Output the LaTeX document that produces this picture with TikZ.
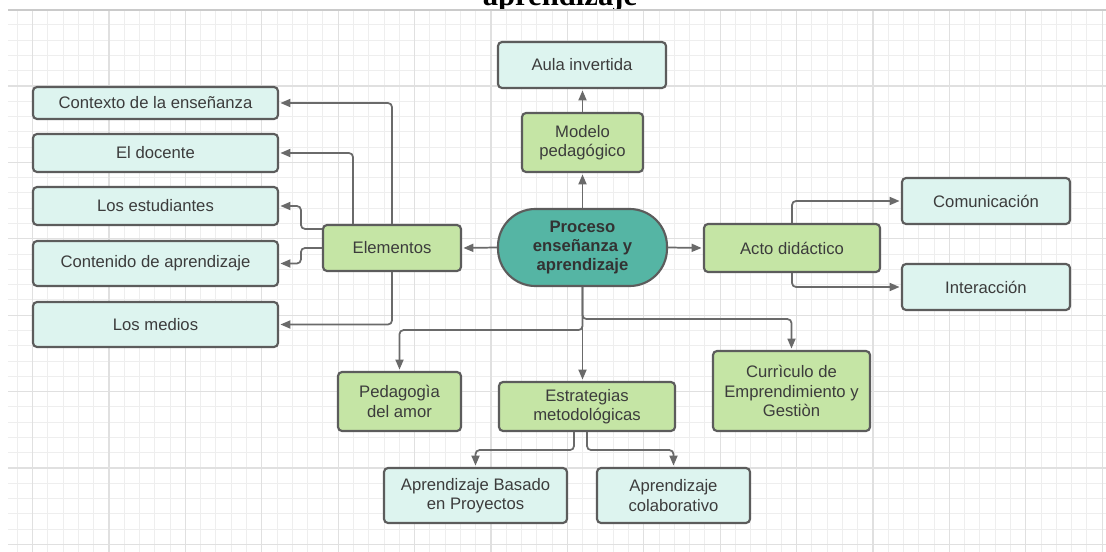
\documentclass[tikz,border=0pt]{standalone}
\usepackage{fontspec}
\setmainfont{Liberation Sans}
\newfontfamily\titlefont{Liberation Serif}
\usetikzlibrary{arrows.meta,calc}
\definecolor{lteal}{HTML}{DDF4EF}
\definecolor{lgreen}{HTML}{C5E5A5}
\definecolor{cteal}{HTML}{55B5A4}
\definecolor{bordc}{HTML}{5C5C5C}
\definecolor{linec}{HTML}{6A6A6A}
\definecolor{txtc}{HTML}{3C3C3C}
\definecolor{gridmin}{HTML}{EEEEEE}
\definecolor{gridmaj}{HTML}{E0E0E0}
\tikzset{
  basebox/.style={draw=bordc, line width=1.6pt, rounded corners=3pt, align=center,
    text=txtc, inner sep=0pt, font=\fontsize{12.5}{14.5}\selectfont},
  tbox/.style={basebox, fill=lteal},
  gbox/.style={basebox, fill=lgreen},
  cbox/.style={basebox, fill=cteal, rounded corners=28pt, text=black!80, font=\bfseries\fontsize{12.5}{14.5}\selectfont},
  conn/.style={draw=linec, line width=1.3pt, rounded corners=3pt,
    -{Triangle[length=7.5pt,width=6pt]}, shorten >=1pt},
  gridminor/.style={draw=gridmin, line width=0.75pt},
  gridmajor/.style={draw=gridmaj, line width=1pt},
}
\begin{document}
\begin{tikzpicture}[x=0.75pt,y=-0.75pt]
\useasboundingbox (0,0) rectangle (1106,552);
\fill[white] (0,0) rectangle (1106,552);
% grid
\begin{scope}
\clip (8,9.6) rectangle (1106,552);
\foreach \i in {-2,...,71}{
  \pgfmathsetmacro\xx{32.6+15.28*\i}
  \draw[gridminor] (\xx,0) -- (\xx,560);
}
\foreach \j in {0,...,36}{
  \pgfmathsetmacro\yy{9.6+15.28*\j}
  \draw[gridminor] (0,\yy) -- (1110,\yy);
}
\foreach \i in {-1,...,14}{
  \pgfmathsetmacro\xx{32.6+76.4*\i}
  \draw[gridmajor] (\xx,0) -- (\xx,560);
}
\foreach \j in {0,...,7}{
  \pgfmathsetmacro\yy{9.6+76.4*\j}
  \draw[gridmajor] (0,\yy) -- (1110,\yy);
}
\end{scope}
\draw[draw=gridmaj!90!black, line width=2.2pt] (8,10) -- (1106,10);
% title (cut off)
\begin{scope}
\clip (0,0) rectangle (1106,8.5);
\node[anchor=base, inner sep=0pt, font=\titlefont\bfseries\fontsize{23}{26}\selectfont] (title) at (560,6) {aprendizaje};
\end{scope}
% nodes
\node[cbox, minimum width=126.75pt, minimum height=57.75pt] (P) at (582.5,247.5) {Proceso\\enseñanza y\\aprendizaje};
\node[gbox, minimum width=103.5pt, minimum height=34.5pt] (E) at (392,248) {Elementos};
\node[gbox, minimum width=90.75pt, minimum height=44.25pt] (M) at (582.5,142.5) {Modelo\\pedagógico};
\node[tbox, minimum width=126pt, minimum height=34.5pt] (aula) at (582,65) {Aula invertida};
\node[gbox, minimum width=132pt, minimum height=36pt] (A) at (792,248) {Acto didáctico};
\node[tbox, minimum width=126pt, minimum height=34.5pt] (com) at (986,201) {Comunicación};
\node[tbox, minimum width=126pt, minimum height=34.5pt] (inter) at (986,287) {Interacción};
\node[tbox, minimum width=183.75pt, minimum height=24pt] (ctx) at (155.5,103) {Contexto de la enseñanza};
\node[tbox, minimum width=183.75pt, minimum height=28.5pt] (doc) at (155.5,153) {El docente};
\node[tbox, minimum width=183.75pt, minimum height=28.5pt] (est) at (155.5,206) {Los estudiantes};
\node[tbox, minimum width=183.75pt, minimum height=33.75pt] (cont) at (155.5,263.5) {Contenido de aprendizaje};
\node[tbox, minimum width=183.75pt, minimum height=33.75pt] (med) at (155.5,324.5) {Los medios};
\node[gbox, minimum width=92.25pt, minimum height=44.25pt] (ped) at (399.5,401.5) {Pedagogìa\\del amor};
\node[gbox, minimum width=132pt, minimum height=36.75pt] (estr) at (587,406.5) {Estrategias\\metodológicas};
\node[gbox, minimum width=117.75pt, minimum height=60pt] (cur) at (791.5,391) {Currìculo de\\Emprendimiento y\\Gestiòn};
\node[tbox, minimum width=137.25pt, minimum height=41.25pt] (abp) at (475.5,495.5) {Aprendizaje Basado\\en Proyectos};
\node[tbox, minimum width=114.75pt, minimum height=41.25pt] (col) at (673.5,495.5) {Aprendizaje\\colaborativo};
% connectors
\draw[conn] (P.west) -- (E.east);
\draw[conn] (P.east) -- (A.west);
\draw[conn] (P.north) -- (M.south);
\draw[conn] (M.north) -- (M.north |- aula.south);
\draw[conn] (E.north) |- (ctx.east);
\draw[conn] ($(E.north)+(-39,0)$) |- (doc.east);
\draw[conn] ($(E.north west)+(0,5)$) -- ($(E.north west)+(-21,5)$) |- (est.east);
\draw[conn] (E.west) -- ($(E.west)+(-21,0)$) |- (cont.east);
\draw[conn] (E.south) |- (med.east);
\draw[conn] (A.north) |- (com.west);
\draw[conn] (A.south) |- (inter.west);
\draw[conn] (P.south) -- (P.south |- estr.north);
\draw[conn] (P.south) -- ++(0,43) -| (ped.north);
\draw[conn] (P.south) -- ++(0,32) -| (cur.north);
\draw[conn] ($(estr.south)+(-13,0)$) -- ++(0,18) -| (abp.north);
\draw[conn] (estr.south) -- ++(0,18) -| (col.north);
\end{tikzpicture}
\end{document}
